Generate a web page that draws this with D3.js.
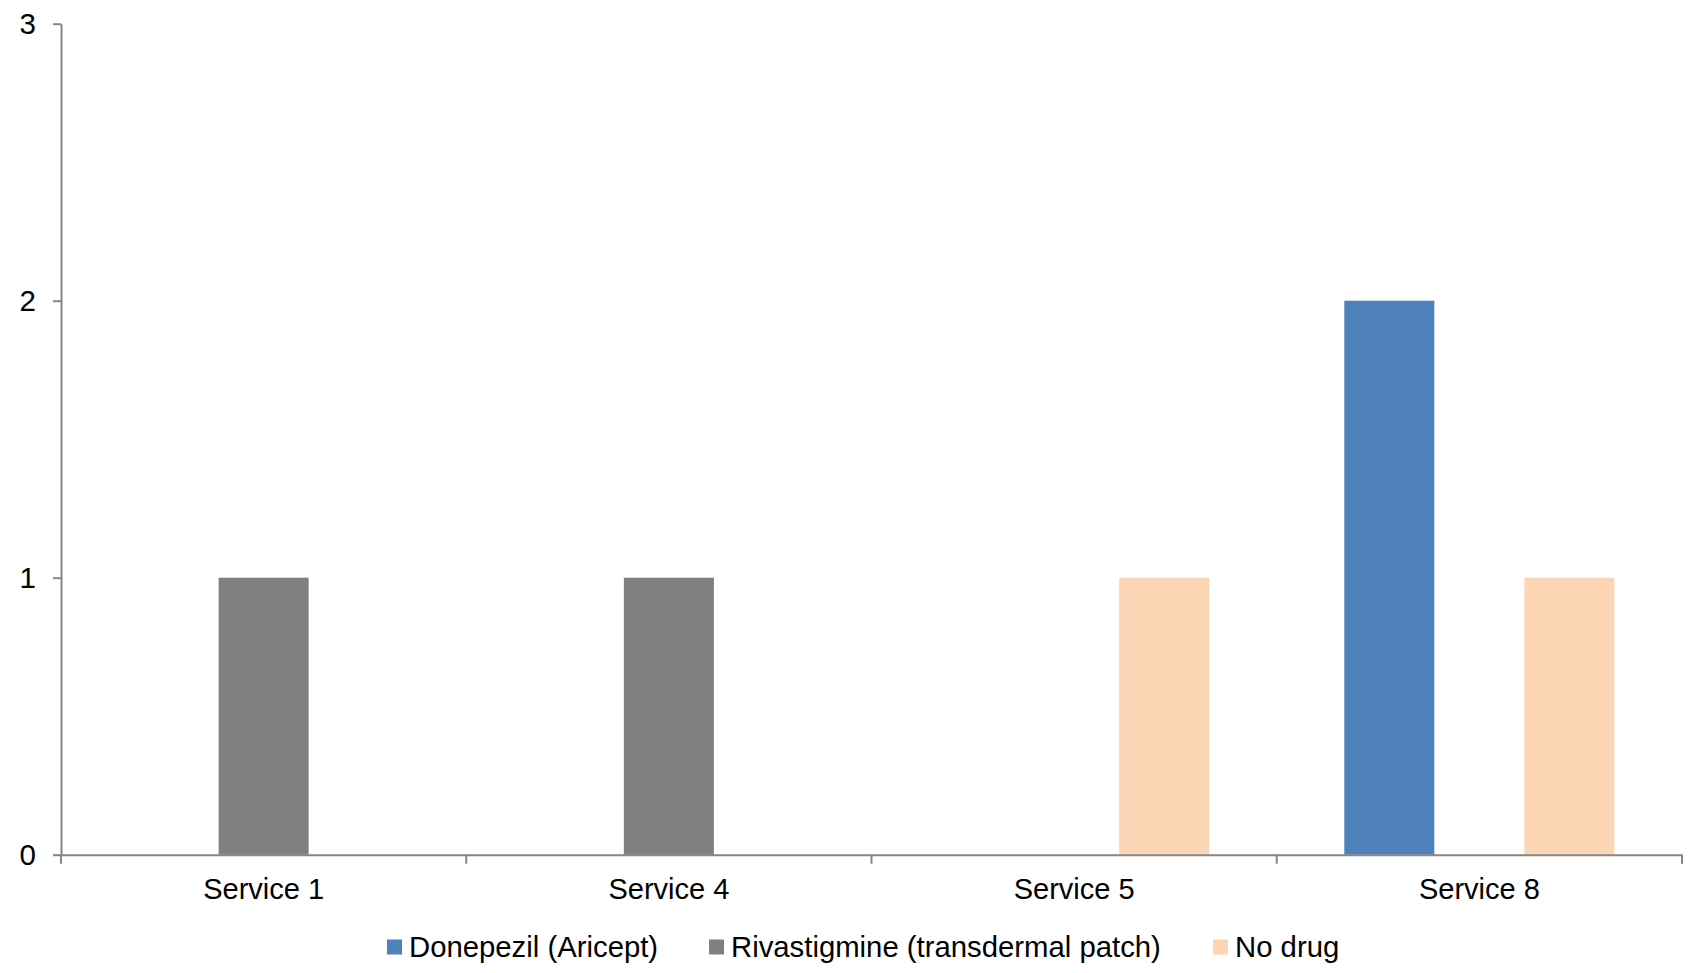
<!DOCTYPE html>
<html>
<head>
<meta charset="utf-8">
<script src="https://cdn.jsdelivr.net/npm/d3@7"></script>
<style>
  html, body { margin: 0; padding: 0; background: #fff; }
  svg { display: block; font-family: "Liberation Sans", Arial, sans-serif; }
</style>
</head>
<body>
<svg id="chart" width="1690" height="973"></svg>
<script>
const categories = ["Service 1", "Service 4", "Service 5", "Service 8"];
const seriesNames = ["Donepezil (Aricept)", "Rivastigmine (transdermal patch)", "No drug"];
const donepezil = [0, 0, 0, 2];
const rivastigmine = [1, 1, 0, 0];
const noDrug = [0, 0, 1, 1];
const seriesColors = ["#4F81BD", "#808080", "#FCD5B5"];
const yTicks = [0, 1, 2, 3];

(function () {
const seriesValues = [donepezil, rivastigmine, noDrug];

const svg = d3.select("#chart");
const mLeft = 61, mRight = 1682, mTop = 23.7, mBottom = 854.7;

const x0 = d3.scaleBand().domain(categories).range([mLeft, mRight]).paddingInner(0).paddingOuter(0);
const x1 = d3.scaleBand().domain(seriesNames).range([0, x0.bandwidth()]).paddingInner(0).paddingOuter(0.75);
const y = d3.scaleLinear().domain([0, 3]).range([mBottom, mTop]);

const axisColor = "#868686";

// bars
const groups = svg.append("g").selectAll("g")
  .data(categories).join("g")
  .attr("transform", d => `translate(${x0(d)},0)`);

groups.selectAll("rect")
  .data((c, i) => seriesNames.map((s, j) => ({ s, v: seriesValues[j][i], color: seriesColors[j] })).filter(d => d.v > 0))
  .join("rect")
  .attr("x", d => x1(d.s))
  .attr("width", x1.bandwidth())
  .attr("y", d => y(d.v))
  .attr("height", d => y(0) - y(d.v))
  .attr("fill", d => d.color);

// y axis
const yAxis = svg.append("g")
  .attr("transform", `translate(${mLeft},0)`)
  .call(d3.axisLeft(y).tickValues(yTicks).tickFormat(d3.format("d")).tickSize(8).tickSizeOuter(0).tickPadding(17));
yAxis.select(".domain").attr("stroke", axisColor).attr("stroke-width", 2);
yAxis.selectAll(".tick line").attr("stroke", axisColor).attr("stroke-width", 2);
yAxis.selectAll(".tick text").attr("fill", "#000").style("font-size", "29.5px")
  .style("font-family", "'Liberation Sans', Arial, sans-serif");

// x axis
const xAxis = svg.append("g")
  .attr("transform", `translate(0,${mBottom})`)
  .call(d3.axisBottom(x0).tickSize(0).tickSizeOuter(0).tickPadding(24));
xAxis.select(".domain").attr("stroke", axisColor).attr("stroke-width", 2);
xAxis.selectAll(".tick text").attr("fill", "#000").style("font-size", "29px")
  .style("font-family", "'Liberation Sans', Arial, sans-serif");
const bounds = categories.map(c => x0(c)).concat([x0(categories[categories.length - 1]) + x0.bandwidth()]);
xAxis.selectAll("line.boundary").data(bounds).join("line")
  .attr("class", "boundary")
  .attr("x1", d => d).attr("x2", d => d)
  .attr("y1", 0).attr("y2", 9)
  .attr("stroke", axisColor).attr("stroke-width", 2);

// legend
const legendX = [387, 709, 1213];
const legend = svg.append("g");
const items = legend.selectAll("g").data(seriesNames).join("g")
  .attr("transform", (d, i) => `translate(${legendX[i]},947)`);
items.append("rect")
  .attr("x", 0).attr("y", -7.5).attr("width", 15).attr("height", 15)
  .attr("fill", (d, i) => seriesColors[i]);
items.append("text")
  .attr("x", 22).attr("y", 0).attr("dy", "0.35em")
  .style("font-size", "29.3px").attr("fill", "#000")
  .text(d => d);
})();
</script>
</body>
</html>
